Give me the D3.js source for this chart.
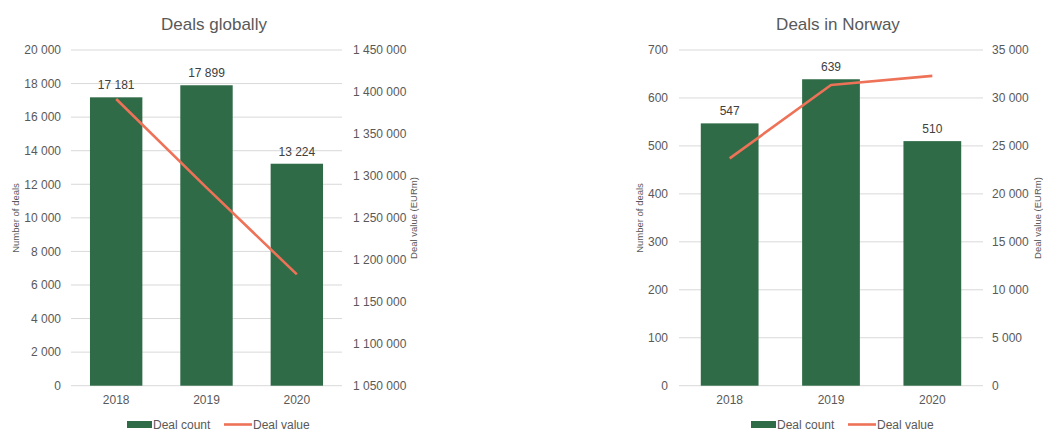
<!DOCTYPE html>
<html><head><meta charset="utf-8">
<script src="https://cdn.jsdelivr.net/npm/d3@7"></script>
<style>
body{margin:0;background:#fff;}
svg{display:block;font-family:"Liberation Sans",Arial,sans-serif;}
</style></head>
<body>
<svg id="c" width="1043" height="432"></svg>
<script>
const years = ["2018","2019","2020"];
const globalCount = [17181, 17899, 13224];
const globalValue = [1391600, 1286000, 1182700];
const norwayCount = [547, 639, 510];
const norwayValue = [23700, 31350, 32300];
const globalLeftTicks = [0,2000,4000,6000,8000,10000,12000,14000,16000,18000,20000];
const globalRightTicks = [1050000,1100000,1150000,1200000,1250000,1300000,1350000,1400000,1450000];
const norwayLeftTicks = [0,100,200,300,400,500,600,700];
const norwayRightTicks = [0,5000,10000,15000,20000,25000,30000,35000];

const GREEN = "#2F6B47", RED = "#EE7258", TXT = "#595959", GRID = "#d9d9d9";
const fmt = v => d3.format(",")(v).replace(/,/g, " ");
const svg = d3.select("#c");

function drawChart(o){
  const g = svg.append("g");
  const x = d3.scaleBand().domain(years).range([o.x0, o.x1]).paddingInner(o.pad).paddingOuter(o.pad/2);
  const yL = d3.scaleLinear().domain(d3.extent(o.lt)).range([385.7, 50]);
  const yR = d3.scaleLinear().domain(d3.extent(o.rt)).range([385.7, 50]);

  // grid
  g.selectAll("line.grid").data(o.lt).join("line")
    .attr("x1", o.x0).attr("x2", o.x1)
    .attr("y1", d => yL(d)).attr("y2", d => yL(d))
    .attr("stroke", GRID).attr("stroke-width", 1);

  // left axis
  const la = g.append("g").attr("transform", `translate(${o.x0},0)`)
    .call(d3.axisLeft(yL).tickValues(o.lt).tickFormat(fmt).tickSize(0).tickPadding(o.lpad));
  la.select(".domain").remove();
  la.selectAll("text").attr("fill", TXT).style("font-size", "12px").style("font-family", "inherit");

  // right axis
  const ra = g.append("g").attr("transform", `translate(${o.x1},0)`)
    .call(d3.axisRight(yR).tickValues(o.rt).tickFormat(fmt).tickSize(0).tickPadding(o.rpad));
  ra.select(".domain").remove();
  ra.selectAll("text").attr("fill", TXT).style("font-size", "12px").style("font-family", "inherit");

  // x axis
  const xa = g.append("g").attr("transform", `translate(0,385.7)`)
    .call(d3.axisBottom(x).tickSize(0).tickPadding(10));
  xa.select(".domain").remove();
  xa.selectAll("text").attr("fill", TXT).style("font-size", "12px").style("font-family", "inherit");

  // bars
  g.selectAll("rect.bar").data(o.count).join("rect")
    .attr("x", (d,i) => x(years[i])).attr("width", x.bandwidth())
    .attr("y", d => yL(d)).attr("height", d => yL(0) - yL(d))
    .attr("fill", GREEN);

  // bar labels
  g.selectAll("text.lbl").data(o.count).join("text")
    .attr("x", (d,i) => x(years[i]) + x.bandwidth()/2)
    .attr("y", d => yL(d) - 8)
    .attr("text-anchor", "middle").attr("fill", "#404040").style("font-size", "12px")
    .text(fmt);

  // line
  const line = d3.line().x((d,i) => x(years[i]) + x.bandwidth()/2).y(d => yR(d));
  g.append("path").datum(o.value).attr("d", line)
    .attr("fill", "none").attr("stroke", RED).attr("stroke-width", 2.6).attr("stroke-linejoin", "round");

  // title
  g.append("text").attr("x", o.tx).attr("y", 30).attr("text-anchor", "middle")
    .attr("fill", TXT).style("font-size", "17px").text(o.title);

  // axis titles
  g.append("text").attr("transform", `translate(${o.ylx},218) rotate(-90)`)
    .attr("text-anchor", "middle").attr("fill", TXT).style("font-size", "9.5px").text("Number of deals");
  g.append("text").attr("transform", `translate(${o.yrx},218) rotate(-90)`)
    .attr("text-anchor", "middle").attr("fill", TXT).style("font-size", "9.5px").text("Deal value (EURm)");

  // legend
  const lg = g.append("g").attr("transform", `translate(${o.legx},0)`);
  lg.append("rect").attr("x", 0).attr("y", 421).attr("width", 25).attr("height", 7).attr("fill", GREEN);
  lg.append("text").attr("x", 26).attr("y", 429).attr("fill", TXT).style("font-size", "12px").text("Deal count");
  lg.append("line").attr("x1", 97).attr("x2", 125).attr("y1", 424.5).attr("y2", 424.5)
    .attr("stroke", RED).attr("stroke-width", 2.6);
  lg.append("text").attr("x", 126).attr("y", 429).attr("fill", TXT).style("font-size", "12px").text("Deal value");
}

drawChart({title:"Deals globally", count: globalCount, value: globalValue, lt: globalLeftTicks, rt: globalRightTicks,
  x0: 71, x1: 342, pad: 0.42, lpad: 10, rpad: 11, tx: 214, ylx: 19, yrx: 417, legx: 127});
drawChart({title:"Deals in Norway", count: norwayCount, value: norwayValue, lt: norwayLeftTicks, rt: norwayRightTicks,
  x0: 679, x1: 983, pad: 0.43, lpad: 11, rpad: 9, tx: 838, ylx: 643, yrx: 1041, legx: 751});
</script>
</body></html>
